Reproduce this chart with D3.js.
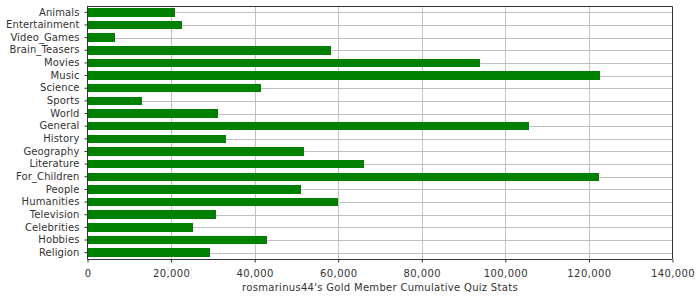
<!DOCTYPE html>
<html>
<head>
<meta charset="utf-8">
<script src="https://cdn.jsdelivr.net/npm/d3@7"></script>
<style>
  html, body { margin: 0; padding: 0; background: #fff; }
  svg { display: block; }
  text { font-family: "DejaVu Sans", sans-serif; fill: #333; }
</style>
</head>
<body>
<svg id="chart" width="700" height="300"></svg>
<script>
const categories = ["Animals","Entertainment","Video_Games","Brain_Teasers","Movies","Music","Science","Sports","World","General","History","Geography","Literature","For_Children","People","Humanities","Television","Celebrities","Hobbies","Religion"];
const values = [21000,22700,6600,58300,94000,122700,41600,13100,31300,105700,33200,51900,66100,122500,51100,60000,30800,25300,43000,29400];
const xTicks = [0,20000,40000,60000,80000,100000,120000,140000];
const xTitle = "rosmarinus44's Gold Member Cumulative Quiz Stats";

(function () {
const svg = d3.select("#chart");
const pL = 87.5, pR = 672.5, pT = 6, pB = 259;

const x = d3.scaleLinear().domain([0, 140000]).range([pL, pR]);
const y = d3.scaleBand().domain(categories).range([pT, pB]).paddingInner(0.33).paddingOuter(0.165);

// vertical gridlines
svg.append("g").selectAll("line").data(xTicks.slice(1, -1)).join("line")
  .attr("x1", d => Math.round(x(d)) + 0.5).attr("x2", d => Math.round(x(d)) + 0.5)
  .attr("y1", pT).attr("y2", pB)
  .attr("stroke", "#c0c0c0").attr("stroke-width", 1);

// horizontal gridlines at category centers
svg.append("g").selectAll("line").data(categories).join("line")
  .attr("x1", pL).attr("x2", pR)
  .attr("y1", d => Math.round(y(d) + y.bandwidth() / 2) + 0.5)
  .attr("y2", d => Math.round(y(d) + y.bandwidth() / 2) + 0.5)
  .attr("stroke", "#c0c0c0").attr("stroke-width", 1);

// bars
svg.append("g").selectAll("rect").data(categories).join("rect")
  .attr("x", x(0))
  .attr("y", d => y(d))
  .attr("width", (d, i) => x(values[i]) - x(0))
  .attr("height", y.bandwidth())
  .attr("fill", "#008000")
  .attr("shape-rendering", "crispEdges");

// plot outline (top & right)
svg.append("path")
  .attr("d", `M${pL},${pT + 0.5}H${pR}V${pB}`)
  .attr("fill", "none").attr("stroke", "#333").attr("stroke-width", 1);

// y axis
const yAxis = svg.append("g").attr("transform", `translate(${pL},0)`)
  .call(d3.axisLeft(y).tickSize(3).tickPadding(5));
yAxis.select(".domain").attr("stroke", "#333").attr("d", `M0,${pT}V${pB + 0.5}`);
yAxis.selectAll(".tick line").attr("stroke", "#333");
yAxis.selectAll("text").attr("font-size", 10).attr("font-family", "DejaVu Sans, sans-serif")
  .attr("fill", "#333").attr("letter-spacing", "0.1px");

// x axis
const xAxis = svg.append("g").attr("transform", `translate(0,${pB + 0.5})`)
  .call(d3.axisBottom(x).tickValues(xTicks).tickSize(3).tickPadding(7).tickFormat(d3.format(",")));
xAxis.select(".domain").attr("stroke", "#333").attr("d", `M${pL},0H${pR}`);
xAxis.selectAll(".tick line").attr("stroke", "#333");
xAxis.selectAll("text").attr("font-size", 10).attr("font-family", "DejaVu Sans, sans-serif")
  .attr("fill", "#333").attr("letter-spacing", "0.4px");

// x title
svg.append("text")
  .attr("x", (pL + pR) / 2).attr("y", 291)
  .attr("text-anchor", "middle").attr("font-size", 10)
  .attr("letter-spacing", "0.3px")
  .text(xTitle);
})();
</script>
</body>
</html>
